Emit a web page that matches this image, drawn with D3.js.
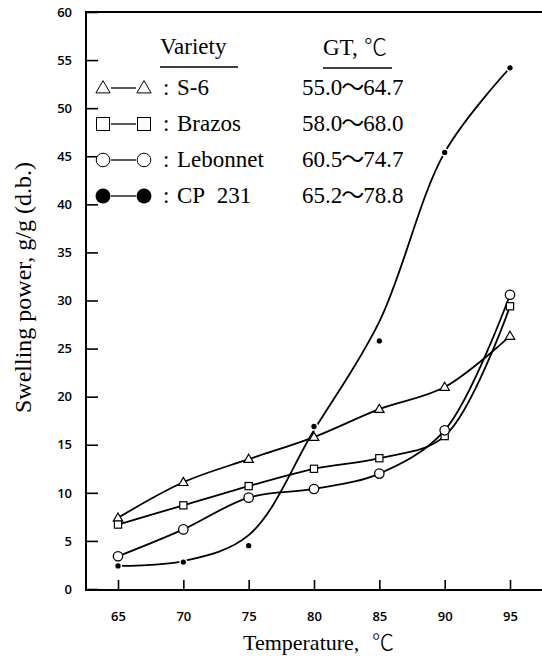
<!DOCTYPE html>
<html>
<head>
<meta charset="utf-8">
<script src="https://cdn.jsdelivr.net/npm/d3@7"></script>
<style>
  body { margin: 0; background: #fff; }
  svg { display: block; }
  .tick text { font-family: "Open Sans", "DejaVu Sans", sans-serif; font-weight: 600; font-size: 13px; fill: #000; }
</style>
</head>
<body>
<svg id="chart" width="542" height="659"></svg>
<script>
// values
var temps = [65, 70, 75, 80, 85, 90, 95];
var s6 = [7.4, 11.1, 13.5, 15.8, 18.7, 21.0, 26.3];
var brazos = [6.7, 8.7, 10.7, 12.5, 13.6, 15.9, 29.4];
var lebonnet = [3.4, 6.2, 9.5, 10.4, 12.0, 16.5, 30.6];
var cp231 = [2.4, 2.8, 4.5, 16.9, 25.8, 45.4, 54.2];
// CP 231 line is a fitted curve, it misses some points
var cp231Line = [2.4, 2.9, 5.6, 16.5, 27.8, 45.4, 54.2];

var varieties = ["S-6", "Brazos", "Lebonnet", "CP\u2002231"];
var gtLow = ["55.0", "58.0", "60.5", "65.2"];
var gtHigh = ["64.7", "68.0", "74.7", "78.8"];
var xTicks = [65, 70, 75, 80, 85, 90, 95];
var yTicks = d3.range(0, 61, 5);

var SERIF = "'Liberation Serif', 'Times New Roman', serif";
var CJK = "'Noto Sans CJK JP', sans-serif";

var svg = d3.select("#chart");
var x = d3.scaleLinear().domain([65, 95]).range([118, 510]);
var y = d3.scaleLinear().domain([0, 60]).range([589, 12]);

function stext(sel, size) {
  return sel.append("text").attr("font-family", SERIF).attr("font-size", size).attr("fill", "#000");
}

// frame
var frame = svg.append("g").attr("stroke", "#000").attr("stroke-width", 2);
frame.append("line").attr("x1", 86).attr("x2", 86).attr("y1", y(60)).attr("y2", y(0) + 1);
frame.append("line").attr("x1", 85).attr("x2", 542).attr("y1", y(60)).attr("y2", y(60));
frame.append("line").attr("x1", 85).attr("x2", 542).attr("y1", y(0) + 1).attr("y2", y(0) + 1);

svg.append("g").attr("transform", "translate(86,0)")
  .call(d3.axisLeft(y).tickValues(yTicks).tickSizeInner(-12).tickSizeOuter(0).tickPadding(14));
svg.append("g").attr("transform", "translate(0," + (y(0) + 1) + ")")
  .call(d3.axisBottom(x).tickValues(xTicks).tickSizeInner(-10).tickSizeOuter(0).tickPadding(22));
svg.selectAll(".domain").remove();
svg.selectAll(".tick line").attr("stroke", "#000").attr("stroke-width", 1.6);

// axis titles
stext(svg, 24).attr("transform", "translate(31,413) rotate(-90)")
  .text("Swelling power, g/g (d.b.)");
var xt = stext(svg, 22).attr("x", 243).attr("y", 650);
xt.append("tspan").text("Temperature,");
xt.append("tspan").attr("x", 372).attr("font-family", CJK).attr("font-weight", 300).text("℃");

// marker drawing
function marker(g, type, cx, cy, r) {
  if (type == "tri") {
    var h = r * 1.8, w = r * 2.1;
    g.append("path").attr("d", "M" + cx + "," + (cy - h * 0.6) + "L" + (cx + w / 2) + "," + (cy + h * 0.4) + "L" + (cx - w / 2) + "," + (cy + h * 0.4) + "Z")
      .attr("fill", "#fff").attr("stroke", "#000").attr("stroke-width", 1.2);
  } else if (type == "sq") {
    g.append("rect").attr("x", cx - r).attr("y", cy - r).attr("width", r * 2).attr("height", r * 2)
      .attr("fill", "#fff").attr("stroke", "#000").attr("stroke-width", 1.2);
  } else if (type == "circ") {
    g.append("circle").attr("cx", cx).attr("cy", cy).attr("r", r)
      .attr("fill", "#fff").attr("stroke", "#000").attr("stroke-width", 1.3);
  } else {
    g.append("circle").attr("cx", cx).attr("cy", cy).attr("r", r)
      .attr("fill", "#000").attr("stroke", "#fff").attr("stroke-width", 1.5);
  }
}

var series = [
  {vals: s6, line: s6, type: "tri", r: 4.5},
  {vals: brazos, line: brazos, type: "sq", r: 3.6},
  {vals: lebonnet, line: lebonnet, type: "circ", r: 4.7},
  {vals: cp231, line: cp231Line, type: "dot", r: 3.4}
];

var lineGen = d3.line().x(function(d){ return x(d[0]); }).y(function(d){ return y(d[1]); })
  .curve(d3.curveCatmullRom.alpha(0.5));

series.forEach(function(s){
  svg.append("path").attr("d", lineGen(d3.zip(temps, s.line)))
    .attr("fill", "none").attr("stroke", "#000").attr("stroke-width", 1.8);
});
series.forEach(function(s){
  var g = svg.append("g");
  temps.forEach(function(t, i){ marker(g, s.type, x(t), y(s.vals[i]), s.r); });
});

// legend
var leg = svg.append("g");
stext(leg, 23).attr("x", 160).attr("y", 54).text("Variety");
var gtH = stext(leg, 23).attr("x", 323).attr("y", 55);
gtH.append("tspan").text("GT,");
gtH.append("tspan").attr("x", 364).attr("font-family", CJK).attr("font-weight", 300).text("℃");
leg.append("line").attr("x1", 160).attr("x2", 238).attr("y1", 67).attr("y2", 67).attr("stroke", "#000").attr("stroke-width", 1.3);
leg.append("line").attr("x1", 323).attr("x2", 392).attr("y1", 68).attr("y2", 68).attr("stroke", "#000").attr("stroke-width", 1.3);

var legR = [7, 6.5, 6.8, 7.5];
varieties.forEach(function(name, i){
  var base = 95 + i * 36, cy = base - 7;
  var g = leg.append("g");
  g.append("line").attr("x1", 111).attr("x2", 136).attr("y1", cy).attr("y2", cy).attr("stroke", "#000").attr("stroke-width", 1.3);
  var t = series[i].type;
  marker(g, t, 103, cy, t == "tri" ? 6.8 : legR[i]);
  marker(g, t, 144, cy, t == "tri" ? 6.8 : legR[i]);
  g.selectAll("path,rect,circle").attr("stroke-width", t == "dot" ? 0 : 1);
  stext(g, 23).attr("x", 163).attr("y", base).text(":");
  stext(g, 23).attr("x", 177).attr("y", base).text(name);
  var v = stext(g, 23).attr("x", 302).attr("y", base);
  v.append("tspan").text(gtLow[i]);
  v.append("tspan").attr("font-family", CJK).attr("dx", -1).text("～");
  v.append("tspan").attr("dx", -1).text(gtHigh[i]);
});
</script>
</body>
</html>
